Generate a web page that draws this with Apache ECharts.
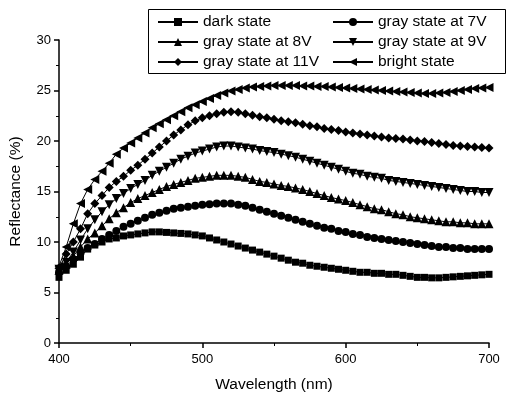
<!DOCTYPE html>
<html>
<head>
<meta charset="utf-8">
<script src="https://cdn.jsdelivr.net/npm/echarts@6/dist/echarts.min.js"></script>
<style>
  html, body { margin: 0; padding: 0; background: #fff; }
  #chart { width: 508px; height: 398px; }
</style>
</head>
<body>
<div id="chart"></div>
<script>
  // wavelength, 400..700 nm step 5
  var wavelengths = [400,405,410,415,420,425,430,435,440,445,450,455,460,465,470,475,480,485,490,495,
    500,505,510,515,520,525,530,535,540,545,550,555,560,565,570,575,580,585,590,595,
    600,605,610,615,620,625,630,635,640,645,650,655,660,665,670,675,680,685,690,695,700];

  var darkState = [6.5,7.2,7.8,8.5,9.3,9.7,10.0,10.3,10.4,10.6,10.7,10.8,10.9,11.0,11.0,10.95,10.9,10.85,10.8,10.7,
    10.6,10.4,10.2,10.0,9.8,9.6,9.4,9.2,9.0,8.8,8.6,8.4,8.2,8.0,7.9,7.7,7.6,7.5,7.4,7.3,
    7.2,7.1,7.0,7.0,6.9,6.9,6.8,6.8,6.7,6.6,6.5,6.5,6.45,6.45,6.5,6.55,6.6,6.65,6.7,6.75,6.8];

  var gray7V = [7.0,7.6,8.3,8.9,9.4,9.8,10.3,10.7,11.1,11.5,11.8,12.1,12.4,12.7,12.9,13.1,13.3,13.4,13.5,13.6,
    13.7,13.75,13.8,13.8,13.8,13.7,13.6,13.4,13.2,13.0,12.8,12.6,12.4,12.2,12.0,11.8,11.6,11.4,11.3,11.1,
    11.0,10.8,10.7,10.5,10.4,10.3,10.2,10.1,10.0,9.9,9.8,9.7,9.6,9.5,9.5,9.4,9.4,9.3,9.3,9.3,9.3];

  var gray8V = [7.2,7.8,8.6,9.5,10.3,10.9,11.6,12.3,12.9,13.4,13.9,14.3,14.6,14.9,15.2,15.5,15.7,15.9,16.1,16.3,
    16.4,16.5,16.6,16.6,16.6,16.5,16.4,16.2,16.0,15.9,15.75,15.6,15.5,15.35,15.2,15.0,14.8,14.6,14.4,14.25,
    14.1,13.9,13.7,13.5,13.3,13.2,13.0,12.8,12.7,12.5,12.4,12.3,12.2,12.1,12.0,12.0,11.9,11.9,11.8,11.8,11.8];

  var gray9V = [7.3,8.0,9.0,10.2,11.3,12.2,13.0,13.7,14.3,14.8,15.3,15.7,16.1,16.6,17.0,17.4,17.8,18.2,18.5,18.8,
    19.0,19.2,19.4,19.5,19.5,19.4,19.3,19.2,19.05,18.95,18.85,18.7,18.55,18.4,18.2,18.0,17.8,17.6,17.4,17.2,
    17.0,16.8,16.7,16.5,16.4,16.3,16.1,16.0,15.9,15.8,15.7,15.6,15.5,15.4,15.3,15.2,15.1,15.0,15.0,14.9,14.9];

  var gray11V = [7.4,8.8,10.0,11.3,12.8,13.8,14.6,15.4,16.0,16.5,17.1,17.6,18.2,18.8,19.4,20.0,20.6,21.1,21.6,22.0,
    22.3,22.5,22.7,22.85,22.9,22.85,22.7,22.55,22.4,22.3,22.15,22.0,21.9,21.8,21.65,21.5,21.4,21.25,21.15,21.05,
    20.9,20.8,20.7,20.6,20.5,20.4,20.3,20.25,20.2,20.1,20.0,19.95,19.85,19.75,19.65,19.55,19.5,19.45,19.4,19.35,19.3];

  var brightState = [7.6,9.5,11.8,13.8,15.2,16.2,17.0,17.8,18.7,19.3,19.8,20.3,20.8,21.3,21.7,22.1,22.5,22.9,23.3,23.6,
    23.9,24.2,24.5,24.75,24.95,25.1,25.25,25.35,25.4,25.45,25.5,25.5,25.5,25.5,25.45,25.45,25.4,25.4,25.35,25.3,
    25.25,25.2,25.15,25.1,25.05,25.0,24.95,24.9,24.85,24.8,24.75,24.7,24.7,24.75,24.8,24.9,25.0,25.1,25.2,25.25,25.3];

  var seriesNames = ['dark state','gray state at 7V','gray state at 8V','gray state at 9V','gray state at 11V','bright state'];
  var seriesValues = [darkState, gray7V, gray8V, gray9V, gray11V, brightState];
  var symbols = ['rect','circle','triangle','triangle','diamond','triangle'];
  var rotates = [0, 0, 0, 180, 0, 90];
  var sizes = [7, 8, 9, 9, 9, 9];

  var font = '"Liberation Sans", Arial, sans-serif';

  function pairs(vals){
    return wavelengths.map(function(w, i){ return [w, vals[i]]; });
  }

  var series = seriesNames.map(function(name, i){
    return {
      name: name,
      type: 'line',
      data: pairs(seriesValues[i]),
      symbol: symbols[i],
      symbolRotate: rotates[i],
      symbolSize: sizes[i],
      showAllSymbol: true,
      lineStyle: { color: '#000', width: 1 },
      itemStyle: { color: '#000' },
      animation: false
    };
  });

  var legendCommon = {
    orient: 'vertical',
    top: 9,
    itemWidth: 40,
    itemHeight: 10,
    itemGap: 4,
    textStyle: { fontFamily: font, fontSize: 15.5, lineHeight: 16, color: '#000' },
    selectedMode: false
  };

  var myChart = echarts.init(document.getElementById('chart'));
  myChart.setOption({
    backgroundColor: '#fff',
    animation: false,
    graphic: [{
      type: 'rect',
      left: 146, top: 7,
      shape: { width: 357, height: 64 },
      style: { fill: 'none', stroke: '#000', lineWidth: 1 }
    }],
    legend: [
      Object.assign({ left: 152, data: [seriesNames[0], seriesNames[2], seriesNames[4]] }, legendCommon),
      Object.assign({ left: 327, data: [seriesNames[1], seriesNames[3], seriesNames[5]] }, legendCommon)
    ],
    grid: { left: 58, right: 19, top: 40, bottom: 53 },
    xAxis: {
      type: 'value',
      min: 400, max: 700, interval: 100,
      name: 'Wavelength (nm)',
      nameLocation: 'middle',
      nameGap: 34,
      nameTextStyle: { fontFamily: font, fontSize: 15.5, color: '#000' },
      axisLine: { lineStyle: { color: '#000', width: 1.5 } },
      axisTick: { inside: false, length: 5, lineStyle: { color: '#000', width: 1.5 } },
      minorTick: { show: true, splitNumber: 2, length: 3, lineStyle: { color: '#000' } },
      axisLabel: { fontFamily: font, fontSize: 13, color: '#000', margin: 10 },
      splitLine: { show: false }
    },
    yAxis: {
      type: 'value',
      min: 0, max: 30, interval: 5,
      name: 'Reflectance (%)',
      nameLocation: 'middle',
      nameGap: 35,
      nameTextStyle: { fontFamily: font, fontSize: 15.5, color: '#000' },
      axisLine: { show: true, lineStyle: { color: '#000', width: 1.5 } },
      axisTick: { show: true, inside: false, length: 5, lineStyle: { color: '#000', width: 1.5 } },
      minorTick: { show: true, splitNumber: 2, length: 3, lineStyle: { color: '#000' } },
      axisLabel: { fontFamily: font, fontSize: 13, color: '#000', margin: 8 },
      splitLine: { show: false }
    },
    series: series
  });
</script>
</body>
</html>
